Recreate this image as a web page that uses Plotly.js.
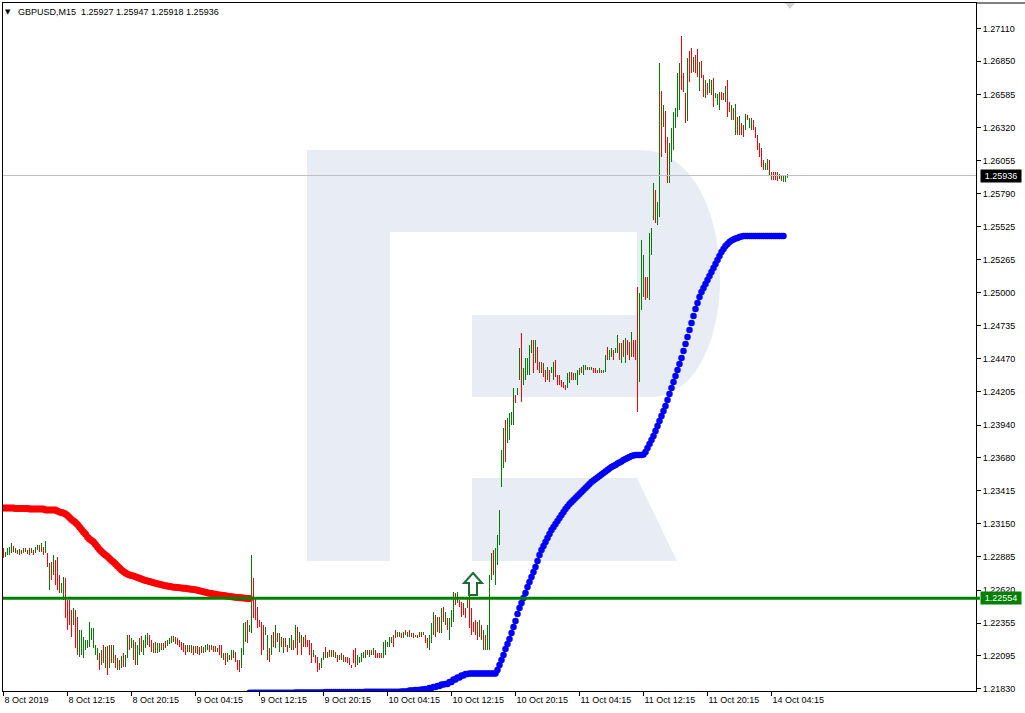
<!DOCTYPE html>
<html><head><meta charset="utf-8">
<script src="https://cdn.plot.ly/plotly-3.0.1.min.js"></script>
<style>html,body{margin:0;padding:0;background:#fff;}#chart{width:1025px;height:713px;}</style>
</head><body><div id="chart"></div>
<script>
const symbolTitle = 'GBPUSD,M15  1.25927 1.25947 1.25918 1.25936';
const xTickBars = [0,32,64,96,128,160,192,224,256,288,320,352,384];
const xTickLabels = ['8 Oct 2019','8 Oct 12:15','8 Oct 20:15','9 Oct 04:15','9 Oct 12:15','9 Oct 20:15','10 Oct 04:15','10 Oct 12:15','10 Oct 20:15','11 Oct 04:15','11 Oct 12:15','11 Oct 20:15','14 Oct 04:15'];
const yTickLabels = ['1.27110','1.26850','1.26585','1.26320','1.26055','1.25790','1.25525','1.25265','1.25000','1.24735','1.24470','1.24205','1.23940','1.23680','1.23415','1.23150','1.22885','1.22620','1.22355','1.22095','1.21830'];
const levelPrice = 1.22554;
const bidPrice = 1.25936;

const open = [
1.22940,1.22892,1.22908,1.22916,1.22932,1.22964,1.22924,1.22932,1.22908,1.22932,
1.22924,1.22948,1.22916,1.22948,1.22924,1.22932,1.22924,1.22948,1.22972,1.22940,
1.22948,1.22932,1.22900,1.22636,1.22828,1.22756,1.22844,1.22868,1.22724,1.22612,
1.22556,1.22700,1.22524,1.22524,1.22444,1.22356,1.22444,1.22388,1.22100,1.22116,
1.22092,1.22156,1.22172,1.22180,1.22236,1.22172,1.22116,1.22076,1.22100,1.22036,
1.22164,1.22012,1.22156,1.22012,1.22164,1.22052,1.22084,1.21996,1.22044,1.22012,
1.22100,1.22020,1.22092,1.22244,1.22172,1.22076,1.22188,1.22036,1.22116,1.22236,
1.22116,1.22172,1.22196,1.22244,1.22204,1.22132,1.22188,1.22132,1.22140,1.22188,
1.22148,1.22204,1.22180,1.22196,1.22204,1.22244,1.22196,1.22228,1.22212,1.22188,
1.22180,1.22164,1.22132,1.22172,1.22132,1.22156,1.22124,1.22164,1.22156,1.22124,
1.22156,1.22132,1.22148,1.22172,1.22148,1.22164,1.22164,1.22140,1.22164,1.22164,
1.22068,1.22100,1.22060,1.22092,1.22076,1.22084,1.22108,1.22044,1.22044,1.22012,
1.22116,1.22220,1.22364,1.22292,1.22292,1.22700,1.22540,1.22468,1.22372,1.22348,
1.22324,1.22268,1.22076,1.22140,1.22116,1.22220,1.22172,1.22260,1.22140,1.22228,
1.22132,1.22220,1.22148,1.22172,1.22156,1.22204,1.22172,1.22308,1.22212,1.22244,
1.22180,1.22244,1.22212,1.22204,1.22180,1.22092,1.22092,1.22068,1.22028,1.22012,
1.22068,1.22148,1.22084,1.22132,1.22092,1.22132,1.22084,1.22092,1.22068,1.22108,
1.22052,1.22076,1.22076,1.22068,1.22008,1.22124,1.22140,1.22036,1.22044,1.22060,
1.22084,1.22092,1.22132,1.22092,1.22132,1.22108,1.22132,1.22108,1.22108,1.22108,
1.22092,1.22116,1.22172,1.22180,1.22204,1.22244,1.22244,1.22276,1.22252,1.22268,
1.22244,1.22292,1.22252,1.22292,1.22252,1.22268,1.22248,1.22252,1.22252,1.22276,
1.22268,1.22252,1.22220,1.22156,1.22212,1.22276,1.22404,1.22300,1.22388,1.22292,
1.22468,1.22356,1.22380,1.22236,1.22340,1.22380,1.22580,1.22532,1.22532,1.22508,
1.22500,1.22460,1.22492,1.22564,1.22460,1.22348,1.22364,1.22348,1.22260,1.22324,
1.22156,1.22244,1.22156,1.22156,1.22716,1.22924,1.22676,1.22836,1.22996,1.23460,
1.23612,1.23964,1.23812,1.23836,1.23956,1.23956,1.24172,1.24188,1.24316,1.24660,
1.24276,1.24316,1.24356,1.24356,1.24532,1.24604,1.24452,1.24548,1.24436,1.24364,
1.24428,1.24364,1.24316,1.24364,1.24364,1.24316,1.24444,1.24332,1.24324,1.24292,
1.24276,1.24252,1.24252,1.24292,1.24356,1.24348,1.24308,1.24276,1.24348,1.24396,
1.24348,1.24388,1.24396,1.24388,1.24388,1.24388,1.24388,1.24372,1.24364,1.24372,
1.24364,1.24380,1.24548,1.24476,1.24492,1.24524,1.24524,1.24532,1.24580,1.24452,
1.24604,1.24452,1.24604,1.24588,1.24500,1.24604,1.24604,1.24700,1.24300,1.24876,
1.24980,1.25108,1.25108,1.24956,1.25316,1.25596,1.25804,1.25556,1.25620,1.26596,
1.26340,1.26436,1.26228,1.25892,1.26060,1.26156,1.26332,1.26420,1.26476,1.26820,
1.26740,1.26580,1.26388,1.26916,1.26940,1.26772,1.26884,1.26932,1.26628,1.26836,
1.26724,1.26572,1.26668,1.26604,1.26596,1.26700,1.26564,1.26516,1.26476,1.26596,
1.26588,1.26540,1.26684,1.26508,1.26396,1.26460,1.26276,1.26388,1.26276,1.26340,
1.26324,1.26316,1.26412,1.26332,1.26316,1.26372,1.26316,1.26244,1.26180,1.26140,
1.26044,1.25988,1.25996,1.26044,1.25908,1.25956,1.25948,1.25956,1.25916,1.25932,
1.25892,1.25892,1.25927];

const high = [
1.22956,1.22924,1.22956,1.22964,1.22996,1.22972,1.22956,1.22940,1.22948,1.22940,
1.22956,1.22956,1.22940,1.22956,1.22956,1.22940,1.22964,1.22980,1.22980,1.22996,
1.22964,1.23012,1.22916,1.22836,1.22844,1.22900,1.22860,1.22884,1.22740,1.22676,
1.22724,1.22716,1.22540,1.22540,1.22460,1.22476,1.22460,1.22404,1.22300,1.22300,
1.22244,1.22220,1.22220,1.22364,1.22316,1.22316,1.22180,1.22156,1.22116,1.22140,
1.22180,1.22164,1.22172,1.22180,1.22180,1.22180,1.22100,1.22076,1.22060,1.22092,
1.22116,1.22100,1.22260,1.22260,1.22236,1.22220,1.22204,1.22180,1.22236,1.22252,
1.22220,1.22260,1.22276,1.22260,1.22220,1.22196,1.22204,1.22196,1.22196,1.22196,
1.22196,1.22212,1.22220,1.22236,1.22252,1.22252,1.22244,1.22236,1.22220,1.22204,
1.22196,1.22180,1.22180,1.22180,1.22180,1.22172,1.22172,1.22172,1.22164,1.22172,
1.22164,1.22180,1.22188,1.22180,1.22180,1.22172,1.22172,1.22156,1.22180,1.22180,
1.22116,1.22116,1.22116,1.22100,1.22140,1.22140,1.22124,1.22060,1.22060,1.22156,
1.22356,1.22364,1.22380,1.22340,1.22900,1.22716,1.22556,1.22484,1.22380,1.22364,
1.22340,1.22324,1.22260,1.22156,1.22260,1.22284,1.22340,1.22276,1.22276,1.22244,
1.22236,1.22236,1.22180,1.22236,1.22260,1.22220,1.22340,1.22324,1.22284,1.22260,
1.22244,1.22260,1.22220,1.22220,1.22196,1.22140,1.22100,1.22084,1.22036,1.22076,
1.22124,1.22164,1.22124,1.22140,1.22140,1.22140,1.22124,1.22100,1.22100,1.22116,
1.22100,1.22084,1.22084,1.22076,1.22020,1.22140,1.22156,1.22100,1.22084,1.22116,
1.22124,1.22140,1.22140,1.22140,1.22140,1.22156,1.22140,1.22116,1.22116,1.22116,
1.22204,1.22220,1.22204,1.22244,1.22244,1.22260,1.22300,1.22284,1.22284,1.22276,
1.22284,1.22300,1.22284,1.22300,1.22276,1.22276,1.22260,1.22260,1.22284,1.22284,
1.22284,1.22260,1.22236,1.22260,1.22356,1.22444,1.22420,1.22404,1.22404,1.22476,
1.22484,1.22444,1.22396,1.22396,1.22460,1.22604,1.22596,1.22604,1.22540,1.22524,
1.22516,1.22476,1.22564,1.22580,1.22476,1.22364,1.22380,1.22364,1.22380,1.22340,
1.22300,1.22260,1.22340,1.22740,1.22916,1.22940,1.22956,1.23060,1.23260,1.23740,
1.23916,1.23980,1.23996,1.24036,1.24044,1.24236,1.24180,1.24236,1.24556,1.24676,
1.24396,1.24476,1.24476,1.24580,1.24620,1.24620,1.24620,1.24564,1.24444,1.24444,
1.24436,1.24380,1.24404,1.24380,1.24404,1.24444,1.24460,1.24340,1.24340,1.24300,
1.24284,1.24260,1.24356,1.24364,1.24364,1.24356,1.24356,1.24380,1.24396,1.24404,
1.24420,1.24420,1.24404,1.24404,1.24404,1.24396,1.24396,1.24380,1.24396,1.24380,
1.24380,1.24500,1.24564,1.24540,1.24556,1.24540,1.24556,1.24660,1.24596,1.24596,
1.24620,1.24636,1.24620,1.24604,1.24684,1.24620,1.24620,1.25044,1.24996,1.25420,
1.25300,1.25124,1.25124,1.25476,1.25516,1.25876,1.25820,1.25724,1.26836,1.26612,
1.26500,1.26452,1.26244,1.26196,1.26316,1.26444,1.26476,1.26756,1.26836,1.27052,
1.26756,1.26596,1.26876,1.26932,1.26956,1.26884,1.26900,1.26948,1.26844,1.26852,
1.26740,1.26700,1.26676,1.26708,1.26700,1.26716,1.26596,1.26588,1.26604,1.26604,
1.26596,1.26652,1.26700,1.26524,1.26500,1.26476,1.26508,1.26404,1.26412,1.26356,
1.26340,1.26428,1.26420,1.26396,1.26396,1.26380,1.26324,1.26260,1.26196,1.26156,
1.26060,1.26036,1.26068,1.26060,1.25964,1.25964,1.25964,1.25964,1.25948,1.25940,
1.25932,1.25940,1.25947];

const low = [
1.22876,1.22884,1.22900,1.22900,1.22916,1.22924,1.22916,1.22908,1.22900,1.22908,
1.22916,1.22924,1.22908,1.22900,1.22916,1.22900,1.22916,1.22940,1.22924,1.22924,
1.22900,1.22916,1.22804,1.22620,1.22700,1.22740,1.22660,1.22620,1.22596,1.22596,
1.22540,1.22396,1.22300,1.22340,1.22244,1.22340,1.22156,1.22100,1.22084,1.22100,
1.22076,1.22140,1.22156,1.22164,1.22220,1.22156,1.22100,1.22060,1.21980,1.22020,
1.22036,1.21996,1.21940,1.21996,1.22036,1.22036,1.21996,1.21980,1.21980,1.21996,
1.22004,1.22004,1.22076,1.22140,1.22156,1.22060,1.22020,1.22020,1.22100,1.22124,
1.22100,1.22156,1.22180,1.22164,1.22124,1.22116,1.22116,1.22116,1.22124,1.22140,
1.22140,1.22156,1.22172,1.22188,1.22196,1.22204,1.22188,1.22180,1.22164,1.22140,
1.22124,1.22100,1.22124,1.22124,1.22116,1.22100,1.22116,1.22108,1.22100,1.22116,
1.22116,1.22124,1.22140,1.22124,1.22140,1.22124,1.22124,1.22124,1.22100,1.22076,
1.22060,1.22020,1.22044,1.22060,1.22060,1.22076,1.22044,1.21980,1.21964,1.21996,
1.22100,1.22204,1.22196,1.22284,1.22276,1.22396,1.22380,1.22316,1.22324,1.22100,
1.22140,1.22260,1.22060,1.22044,1.22100,1.22164,1.22156,1.22204,1.22124,1.22164,
1.22116,1.22164,1.22124,1.22156,1.22140,1.22140,1.22156,1.22100,1.22196,1.22100,
1.22164,1.22164,1.22164,1.22100,1.22036,1.22084,1.22036,1.21964,1.21980,1.21996,
1.22060,1.22076,1.22076,1.22084,1.22084,1.22084,1.22076,1.22044,1.22060,1.22060,
1.22044,1.22044,1.22036,1.22020,1.21996,1.22036,1.22004,1.22020,1.22036,1.22044,
1.22076,1.22076,1.22100,1.22084,1.22100,1.22100,1.22076,1.22076,1.22076,1.22076,
1.22076,1.22100,1.22164,1.22164,1.22196,1.22164,1.22236,1.22244,1.22244,1.22236,
1.22236,1.22260,1.22244,1.22244,1.22244,1.22236,1.22244,1.22236,1.22244,1.22244,
1.22260,1.22196,1.22156,1.22140,1.22196,1.22260,1.22244,1.22284,1.22276,1.22276,
1.22364,1.22340,1.22300,1.22220,1.22324,1.22364,1.22500,1.22516,1.22484,1.22404,
1.22420,1.22396,1.22476,1.22316,1.22260,1.22284,1.22260,1.22220,1.22244,1.22220,
1.22140,1.22140,1.22140,1.22140,1.22700,1.22740,1.22660,1.22820,1.22980,1.23444,
1.23596,1.23644,1.23796,1.23820,1.23940,1.23940,1.24116,1.24180,1.24300,1.24124,
1.24260,1.24300,1.24340,1.24340,1.24516,1.24356,1.24436,1.24380,1.24356,1.24356,
1.24324,1.24284,1.24300,1.24284,1.24356,1.24300,1.24324,1.24260,1.24260,1.24244,
1.24236,1.24220,1.24236,1.24276,1.24300,1.24300,1.24300,1.24260,1.24340,1.24356,
1.24340,1.24380,1.24380,1.24380,1.24380,1.24356,1.24356,1.24356,1.24356,1.24356,
1.24356,1.24364,1.24460,1.24460,1.24484,1.24460,1.24516,1.24516,1.24460,1.24436,
1.24484,1.24436,1.24500,1.24460,1.24484,1.24484,1.24460,1.24044,1.24284,1.24860,
1.24964,1.24940,1.24956,1.24940,1.25300,1.25580,1.25556,1.25540,1.25604,1.26084,
1.26324,1.26116,1.25876,1.25876,1.26044,1.26140,1.26316,1.26404,1.26460,1.26620,
1.26604,1.26356,1.26372,1.26684,1.26756,1.26764,1.26756,1.26724,1.26612,1.26716,
1.26564,1.26556,1.26580,1.26596,1.26580,1.26484,1.26556,1.26500,1.26460,1.26540,
1.26540,1.26524,1.26404,1.26444,1.26380,1.26380,1.26260,1.26260,1.26260,1.26260,
1.26244,1.26300,1.26380,1.26316,1.26300,1.26300,1.26236,1.26140,1.26084,1.26004,
1.25980,1.25980,1.25980,1.25940,1.25900,1.25900,1.25900,1.25892,1.25908,1.25892,
1.25884,1.25884,1.25918];

const close = [
1.22892,1.22916,1.22948,1.22948,1.22980,1.22932,1.22948,1.22916,1.22940,1.22916,
1.22948,1.22932,1.22932,1.22908,1.22948,1.22908,1.22956,1.22972,1.22932,1.22980,
1.22916,1.22996,1.22820,1.22820,1.22716,1.22884,1.22676,1.22636,1.22612,1.22660,
1.22708,1.22412,1.22316,1.22356,1.22260,1.22460,1.22172,1.22116,1.22284,1.22284,
1.22228,1.22204,1.22204,1.22348,1.22300,1.22300,1.22164,1.22140,1.21996,1.22124,
1.22052,1.22148,1.21956,1.22164,1.22052,1.22164,1.22012,1.22060,1.21996,1.22076,
1.22020,1.22084,1.22244,1.22156,1.22220,1.22204,1.22036,1.22164,1.22220,1.22140,
1.22204,1.22244,1.22260,1.22180,1.22140,1.22180,1.22132,1.22180,1.22180,1.22148,
1.22188,1.22164,1.22212,1.22228,1.22244,1.22212,1.22236,1.22188,1.22172,1.22156,
1.22140,1.22116,1.22172,1.22132,1.22164,1.22116,1.22164,1.22116,1.22108,1.22164,
1.22124,1.22172,1.22180,1.22132,1.22172,1.22132,1.22132,1.22140,1.22116,1.22092,
1.22108,1.22036,1.22100,1.22068,1.22124,1.22132,1.22060,1.21996,1.21980,1.22140,
1.22340,1.22348,1.22212,1.22332,1.22716,1.22412,1.22396,1.22332,1.22332,1.22116,
1.22156,1.22316,1.22244,1.22060,1.22244,1.22220,1.22324,1.22220,1.22260,1.22180,
1.22220,1.22180,1.22148,1.22220,1.22244,1.22156,1.22324,1.22116,1.22268,1.22116,
1.22228,1.22180,1.22172,1.22116,1.22052,1.22132,1.22044,1.21980,1.21988,1.22060,
1.22116,1.22092,1.22116,1.22092,1.22132,1.22092,1.22116,1.22052,1.22092,1.22068,
1.22092,1.22052,1.22044,1.22028,1.22008,1.22052,1.22020,1.22084,1.22076,1.22100,
1.22116,1.22132,1.22108,1.22132,1.22108,1.22148,1.22084,1.22084,1.22084,1.22084,
1.22188,1.22204,1.22196,1.22228,1.22236,1.22180,1.22292,1.22252,1.22276,1.22244,
1.22276,1.22268,1.22276,1.22252,1.22268,1.22244,1.22256,1.22244,1.22276,1.22252,
1.22276,1.22204,1.22172,1.22244,1.22340,1.22428,1.22260,1.22388,1.22292,1.22460,
1.22380,1.22428,1.22316,1.22380,1.22444,1.22588,1.22516,1.22588,1.22492,1.22420,
1.22436,1.22412,1.22548,1.22332,1.22276,1.22300,1.22276,1.22236,1.22364,1.22236,
1.22284,1.22156,1.22324,1.22724,1.22900,1.22756,1.22940,1.23044,1.23244,1.23724,
1.23900,1.23660,1.23980,1.24020,1.24028,1.24220,1.24124,1.24228,1.24540,1.24140,
1.24380,1.24460,1.24460,1.24564,1.24604,1.24372,1.24604,1.24396,1.24364,1.24436,
1.24332,1.24300,1.24388,1.24300,1.24396,1.24428,1.24340,1.24268,1.24276,1.24252,
1.24244,1.24228,1.24340,1.24348,1.24308,1.24308,1.24348,1.24364,1.24388,1.24364,
1.24412,1.24412,1.24388,1.24396,1.24396,1.24364,1.24364,1.24364,1.24388,1.24364,
1.24372,1.24484,1.24476,1.24524,1.24540,1.24476,1.24548,1.24644,1.24476,1.24580,
1.24500,1.24620,1.24516,1.24476,1.24668,1.24500,1.24476,1.24300,1.24980,1.25404,
1.25284,1.24956,1.24972,1.25460,1.25500,1.25860,1.25572,1.25708,1.26820,1.26100,
1.26484,1.26132,1.25892,1.26180,1.26300,1.26428,1.26460,1.26740,1.26820,1.26700,
1.26620,1.26372,1.26860,1.26700,1.26772,1.26876,1.26772,1.26740,1.26828,1.26732,
1.26580,1.26684,1.26588,1.26700,1.26684,1.26500,1.26588,1.26580,1.26588,1.26548,
1.26548,1.26636,1.26420,1.26460,1.26484,1.26396,1.26492,1.26276,1.26396,1.26276,
1.26260,1.26412,1.26388,1.26380,1.26380,1.26308,1.26244,1.26156,1.26100,1.26020,
1.25996,1.26028,1.26052,1.25956,1.25956,1.25908,1.25916,1.25900,1.25940,1.25900,
1.25924,1.25932,1.25936];

// red indicator dots, from bar 0
const redStart = 0;
const redLine = [
1.23276,1.23276,1.23276,1.23276,1.23276,1.23276,1.23272,1.23272,1.23272,1.23272,
1.23272,1.23272,1.23272,1.23268,1.23268,1.23268,1.23268,1.23268,1.23268,1.23268,
1.23268,1.23260,1.23260,1.23260,1.23260,1.23260,1.23260,1.23252,1.23244,1.23240,
1.23236,1.23228,1.23216,1.23200,1.23184,1.23172,1.23160,1.23144,1.23124,1.23104,
1.23084,1.23068,1.23044,1.23028,1.23016,1.23004,1.22984,1.22964,1.22944,1.22928,
1.22912,1.22900,1.22888,1.22872,1.22856,1.22844,1.22828,1.22812,1.22796,1.22780,
1.22768,1.22756,1.22748,1.22740,1.22736,1.22732,1.22726,1.22720,1.22714,1.22708,
1.22702,1.22696,1.22692,1.22688,1.22684,1.22679,1.22675,1.22671,1.22667,1.22663,
1.22659,1.22655,1.22652,1.22649,1.22646,1.22643,1.22642,1.22640,1.22638,1.22637,
1.22635,1.22634,1.22631,1.22629,1.22626,1.22624,1.22622,1.22618,1.22614,1.22610,
1.22606,1.22602,1.22598,1.22595,1.22592,1.22589,1.22586,1.22583,1.22581,1.22578,
1.22576,1.22574,1.22571,1.22569,1.22566,1.22564,1.22562,1.22561,1.22559,1.22558,
1.22556,1.22554,1.22553,1.22552];

// blue indicator dots, from bar 123
const blueStart = 123;
const blueLine = [
1.21798,1.21798,1.21798,1.21798,1.21798,1.21798,1.21798,1.21798,1.21798,1.21798,
1.21798,1.21798,1.21798,1.21798,1.21798,1.21798,1.21798,1.21798,1.21798,1.21798,
1.21798,1.21798,1.21798,1.21800,1.21800,1.21800,1.21800,1.21800,1.21800,1.21800,
1.21800,1.21800,1.21800,1.21800,1.21800,1.21800,1.21800,1.21800,1.21804,1.21804,
1.21804,1.21804,1.21804,1.21804,1.21804,1.21804,1.21804,1.21804,1.21804,1.21804,
1.21804,1.21804,1.21804,1.21804,1.21804,1.21804,1.21804,1.21804,1.21806,1.21806,
1.21806,1.21806,1.21806,1.21806,1.21806,1.21806,1.21806,1.21806,1.21806,1.21806,
1.21806,1.21806,1.21806,1.21806,1.21806,1.21806,1.21808,1.21808,1.21808,1.21808,
1.21816,1.21816,1.21816,1.21820,1.21820,1.21820,1.21824,1.21824,1.21828,1.21828,
1.21836,1.21836,1.21844,1.21844,1.21852,1.21852,1.21864,1.21864,1.21868,1.21868,
1.21884,1.21884,1.21904,1.21904,1.21920,1.21920,1.21936,1.21936,1.21948,1.21948,
1.21952,1.21952,1.21952,1.21952,1.21952,1.21952,1.21952,1.21952,1.21952,1.21952,
1.21952,1.21952,1.21952,1.21952,1.21980,1.22020,1.22060,1.22100,1.22148,1.22188,
1.22228,1.22276,1.22324,1.22372,1.22428,1.22476,1.22516,1.22556,1.22596,1.22644,
1.22684,1.22724,1.22764,1.22804,1.22852,1.22900,1.22940,1.22972,1.23004,1.23036,
1.23068,1.23100,1.23124,1.23148,1.23172,1.23196,1.23220,1.23244,1.23268,1.23288,
1.23308,1.23324,1.23340,1.23356,1.23372,1.23388,1.23404,1.23420,1.23436,1.23452,
1.23468,1.23484,1.23496,1.23508,1.23520,1.23532,1.23544,1.23556,1.23568,1.23580,
1.23592,1.23604,1.23612,1.23620,1.23632,1.23640,1.23648,1.23660,1.23668,1.23676,
1.23684,1.23692,1.23696,1.23700,1.23700,1.23700,1.23700,1.23704,1.23724,1.23756,
1.23788,1.23820,1.23852,1.23892,1.23932,1.23972,1.24012,1.24052,1.24092,1.24140,
1.24188,1.24236,1.24284,1.24332,1.24380,1.24428,1.24476,1.24532,1.24588,1.24644,
1.24700,1.24756,1.24812,1.24868,1.24916,1.24964,1.25004,1.25036,1.25068,1.25100,
1.25132,1.25164,1.25196,1.25228,1.25260,1.25292,1.25324,1.25348,1.25372,1.25388,
1.25404,1.25416,1.25424,1.25432,1.25436,1.25444,1.25448,1.25452,1.25452,1.25452,
1.25452,1.25452,1.25452,1.25452,1.25452,1.25452,1.25452,1.25452,1.25452,1.25452,
1.25452,1.25452,1.25452,1.25452,1.25452,1.25452,1.25452,1.25452];

// ---------- drawing ----------
const FONT = "'Liberation Sans', Arial, sans-serif";
const bars = close.map((_, i) => i);
const redX = redLine.map((_, i) => redStart + i);
const blueX = blueLine.map((_, i) => blueStart + i);

// pixel helpers for decorative shapes (plot area 3..976 x 3..691)
const PL = 3, PT = 3, PW = 973, PH = 688;
const px = x => ((x - PL) / PW).toFixed(5);
const py = y => (1 - (y - PT) / PH).toFixed(5);
const P = (x, y) => px(x) + ',' + py(y);

const logoMain = 'M' + P(307,150) + ' L' + P(640,150) + ' C' + P(745,150) + ' ' + P(745,397) + ' ' + P(650,397) +
  ' L' + P(472,397) + ' L' + P(472,315) + ' L' + P(637,315) + ' L' + P(637,232) + ' L' + P(390,232) +
  ' L' + P(390,561) + ' L' + P(307,561) + ' Z';
const logoLeg = 'M' + P(472,478) + ' L' + P(637,478) + ' L' + P(677,561) + ' L' + P(472,561) + ' Z';
const arrowPath = 'M' + P(473,573) + ' L' + P(482,583) + ' L' + P(477,583) + ' L' + P(477,595) + ' L' + P(469,595) +
  ' L' + P(469,583) + ' L' + P(464,583) + ' Z';
const shiftMark = 'M' + P(785,3) + ' L' + P(795,3) + ' L' + P(790,9) + ' Z';

const traces = [
  {
    type: 'ohlc', x: bars, open: open, high: high, low: low, close: close,
    tickwidth: 0, hoverinfo: 'skip',
    increasing: {line: {color: '#008000', width: 1}},
    decreasing: {line: {color: '#ff0000', width: 1}}
  },
  {
    type: 'scatter', mode: 'markers', x: redX, y: redLine, hoverinfo: 'skip',
    marker: {color: '#ff0000', size: 7, line: {width: 0}}
  },
  {
    type: 'scatter', mode: 'markers', x: blueX, y: blueLine, hoverinfo: 'skip',
    marker: {color: '#0000ff', size: 6.5, line: {width: 0}}
  }
];

const layout = {
  width: 1025, height: 713,
  margin: {l: PL, r: 1025 - PL - PW, t: PT, b: 713 - PT - PH},
  paper_bgcolor: '#ffffff', plot_bgcolor: '#ffffff',
  showlegend: false, hovermode: false,
  font: {family: FONT, size: 9, color: '#000000'},
  title: {
    text: symbolTitle, xref: 'container', yref: 'container',
    x: 18 / 1025, y: 1 - 12 / 713, xanchor: 'left', yanchor: 'middle',
    font: {family: FONT, size: 9, color: '#000000'}
  },
  xaxis: {
    range: [-0.25, 486.25], autorange: false,
    rangeslider: {visible: false},
    tickmode: 'array', tickvals: xTickBars, ticktext: xTickLabels,
    ticks: 'outside', ticklen: 4, tickcolor: '#000000', tickwidth: 1,
    ticklabelposition: 'outside right',
    showgrid: false, zeroline: false,
    showline: true, mirror: true, linecolor: '#000000', linewidth: 1,
    tickfont: {family: FONT, size: 9, color: '#000000'}
  },
  yaxis: {
    range: [1.21812, 1.27316], autorange: false, side: 'right',
    tickmode: 'array', tickvals: yTickLabels.map(Number), ticktext: yTickLabels,
    ticks: 'outside', ticklen: 4, tickcolor: '#000000', tickwidth: 1,
    showgrid: false, zeroline: false,
    showline: true, mirror: true, linecolor: '#000000', linewidth: 1,
    tickfont: {family: FONT, size: 9, color: '#000000'}
  },
  shapes: [
    {type: 'path', xref: 'paper', yref: 'paper', path: logoMain, fillcolor: '#e8edf5', line: {width: 0}, layer: 'below'},
    {type: 'path', xref: 'paper', yref: 'paper', path: logoLeg, fillcolor: '#e8edf5', line: {width: 0}, layer: 'below'},
    {type: 'line', xref: 'paper', yref: 'y', x0: 0, x1: 1, y0: bidPrice, y1: bidPrice, line: {color: '#c0c0c0', width: 1}},
    {type: 'line', xref: 'paper', yref: 'y', x0: 0, x1: 1.004, y0: levelPrice, y1: levelPrice, line: {color: '#008000', width: 3}},
    {type: 'path', xref: 'paper', yref: 'paper', path: arrowPath, fillcolor: '#ffffff', line: {color: '#1d6b35', width: 2}},
    {type: 'path', xref: 'paper', yref: 'paper', path: shiftMark, fillcolor: '#d4d4d4', line: {width: 0}},
    {type: 'line', xref: 'paper', yref: 'paper', x0: 1, x1: 1 + 49 / PW, y0: 1, y1: 1, line: {color: '#000000', width: 1}}
  ],
  annotations: [
    {xref: 'paper', yref: 'paper', x: Number(px(8)), y: Number(py(12)), text: '▼', showarrow: false,
     font: {family: "'DejaVu Sans', sans-serif", size: 7, color: '#000000'}, xanchor: 'center', yanchor: 'middle'},
    {xref: 'paper', yref: 'y', x: 1, xanchor: 'left', xshift: 4, y: bidPrice, yanchor: 'middle',
     text: bidPrice.toFixed(5), showarrow: false, bgcolor: '#000000', borderpad: 1, width: 38, height: 10,
     font: {family: FONT, size: 9, color: '#ffffff'}},
    {xref: 'paper', yref: 'y', x: 1, xanchor: 'left', xshift: 4, y: levelPrice, yanchor: 'middle',
     text: levelPrice.toFixed(5), showarrow: false, bgcolor: '#008000', borderpad: 1, width: 38, height: 10,
     font: {family: FONT, size: 9, color: '#ffffff'}}
  ]
};

Plotly.newPlot('chart', traces, layout, {staticPlot: true, displayModeBar: false});
</script>
</body></html>
